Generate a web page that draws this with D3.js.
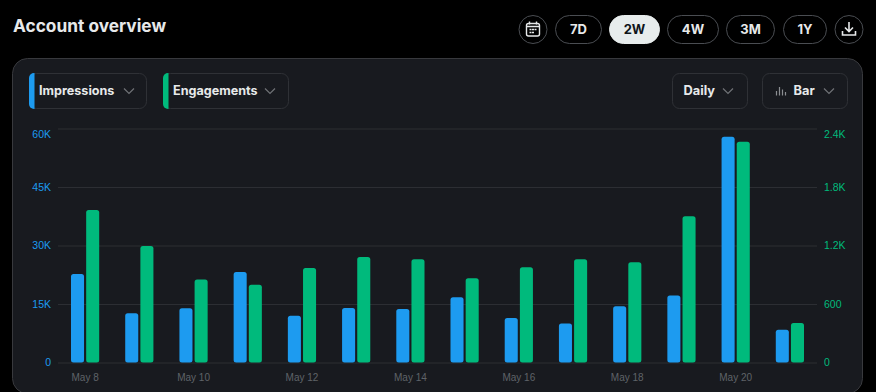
<!DOCTYPE html>
<html>
<head>
<meta charset="utf-8">
<script src="https://cdn.jsdelivr.net/npm/d3@7"></script>
<style>
    html, body { margin: 0; padding: 0; background: #000; overflow: hidden; }
    svg { display: block; font-family: Inter, "Noto Sans", sans-serif; }
    .axis path { display: none; }
    .axis text { font-size: 10.5px; }
</style>
</head>
<body>
<script>
// Chart data
const days = ["May 8", "May 9", "May 10", "May 11", "May 12", "May 13", "May 14",
    "May 15", "May 16", "May 17", "May 18", "May 19", "May 20", "May 21"];
const impressions = [22700, 12600, 13900, 23200, 12000, 14000, 13700,
    16700, 11400, 10000, 14400, 17200, 57900, 8400];
const engagements = [1563, 1194, 852, 797, 968, 1081, 1060,
    865, 978, 1060, 1029, 1499, 2265, 406];
const dayTicks = ["May 8", "May 10", "May 12", "May 14", "May 16", "May 18", "May 20"];
const impressionTicks = [0, 15000, 30000, 45000, 60000];
const engagementTicks = [0, 600, 1200, 1800, 2400];
const seriesNames = ["Impressions", "Engagements"];

// SVG dimensions
const outerWidth = 876, outerHeight = 392;
const plot = { left: 58, right: 817, top: 128.5, bottom: 362.5 };
const blue = "#1d9bf0", green = "#00ba7c", white = "#e7e9ea", line = "#2c2e33";

const svg = d3.select("body").append("svg")
    .attr("width", outerWidth)
    .attr("height", outerHeight);

const kLabel = (d) => d >= 1000 ? `${+(d / 1000).toFixed(1)}K` : `${d}`;

// Title
svg.append("text")
    .attr("x", 13).attr("y", 32)
    .attr("fill", white)
    .attr("font-size", 17.3)
    .attr("font-weight", 700)
    .text("Account overview");

// Range buttons
const circleButton = (cx) => svg.append("circle")
    .attr("cx", cx).attr("cy", 29.5).attr("r", 14)
    .attr("fill", "none").attr("stroke", "#4a4d52");

circleButton(533);
circleButton(849);

const ranges = [
    { label: "7D", x: 555.5, w: 46 },
    { label: "2W", x: 609.5, w: 50, on: true },
    { label: "4W", x: 667.5, w: 51 },
    { label: "3M", x: 726.5, w: 48 },
    { label: "1Y", x: 783.5, w: 43 }
];
ranges.forEach((r) => {
    svg.append("rect")
        .attr("x", r.x).attr("y", 15.5)
        .attr("width", r.w).attr("height", 28).attr("rx", 14)
        .attr("fill", r.on ? "#e7ecec" : "none")
        .attr("stroke", r.on ? "#e7ecec" : "#4a4d52");
    svg.append("text")
        .attr("x", r.x + r.w / 2).attr("y", 34)
        .attr("text-anchor", "middle")
        .attr("fill", r.on ? "#0f1419" : white)
        .attr("font-size", 13).attr("font-weight", 700)
        .text(r.label);
});

// Calendar icon
const calendar = svg.append("g").attr("transform", "translate(533, 29.5)");
calendar.append("rect")
    .attr("x", -6.5).attr("y", -6).attr("width", 13).attr("height", 12.5).attr("rx", 2)
    .attr("fill", "none").attr("stroke", white).attr("stroke-width", 1.4);
calendar.append("path")
    .attr("d", "M-6.5 -3H6.5M-3.5 -8V-5M3.5 -8V-5M-3.5 0H-1.5M-1 0H1M1.5 0H3.5M-3.5 3H-1.5M-1 3H1")
    .attr("fill", "none").attr("stroke", white).attr("stroke-width", 1.4);

// Download icon
svg.append("path")
    .attr("transform", "translate(849, 29)")
    .attr("d", "M0 -7V2.5M-4 -1.5L0 2.5L4 -1.5M-6.5 2V6H6.5V2")
    .attr("fill", "none").attr("stroke", white).attr("stroke-width", 1.6);

// Card
svg.append("rect")
    .attr("x", 12.5).attr("y", 58.5)
    .attr("width", 850).attr("height", 335).attr("rx", 15)
    .attr("fill", "#181a1f").attr("stroke", "#38393d");

// Dropdowns
const chevron = (x, y) => svg.append("path")
    .attr("d", `M${x - 5} ${y - 2.5}L${x} ${y + 2.5}L${x + 5} ${y - 2.5}`)
    .attr("fill", "none").attr("stroke", "#6f7276").attr("stroke-width", 1.2);

const dropdowns = [
    { label: seriesNames[0], x: 29.5, w: 117, tx: 39, cx: 129, accent: blue },
    { label: seriesNames[1], x: 163.5, w: 125, tx: 173, cx: 270, accent: green },
    { label: "Daily", x: 672.5, w: 75, tx: 683.5, cx: 728 },
    { label: "Bar", x: 762.5, w: 85, tx: 793.5, cx: 829 }
];
dropdowns.forEach((d) => {
    svg.append("rect")
        .attr("x", d.x).attr("y", 73.5)
        .attr("width", d.w).attr("height", 35).attr("rx", 7)
        .attr("fill", "none").attr("stroke", "#2f3136");
    if (d.accent) {
        svg.append("path")
            .attr("d", `M${d.x + 5} 73H${d.x + 4.5}a5 5 0 0 0 -5 5V104a5 5 0 0 0 5 5H${d.x + 5}Z`)
            .attr("fill", d.accent);
    }
    svg.append("text")
        .attr("x", d.tx).attr("y", 95)
        .attr("fill", white)
        .attr("font-size", d.accent ? 12.6 : 12.8).attr("font-weight", 700)
        .text(d.label);
    chevron(d.cx, 91);
});

// Little bars on the chart type dropdown
svg.append("path")
    .attr("d", "M776.5 95.5V91M779.5 95.5V87M782.5 95.5V89.5M785.5 95.5V92")
    .attr("fill", "none").attr("stroke", "#8b8e92").attr("stroke-width", 1.2);

// Scales
const x = d3.scaleBand()
    .domain(days)
    .range([plot.left, plot.right]);
const xInner = d3.scaleBand()
    .domain(seriesNames)
    .range([13, x.bandwidth() - 13])
    .paddingInner(0.14);
const yLeft = d3.scaleLinear()
    .domain([0, 60000])
    .range([plot.bottom, plot.top]);
const yRight = d3.scaleLinear()
    .domain([0, 2400])
    .range([plot.bottom, plot.top]);

// Axes, the left one also draws the grid
const leftAxis = svg.append("g")
    .attr("class", "axis")
    .attr("transform", `translate(${plot.left}, 0)`)
    .call(d3.axisLeft(yLeft)
        .tickValues(impressionTicks)
        .tickFormat(kLabel)
        .tickSize(-(plot.right - plot.left))
        .tickPadding(7));
leftAxis.selectAll("line").attr("stroke", line).attr("stroke-width", 1);
leftAxis.selectAll("text").attr("fill", blue);

const rightAxis = svg.append("g")
    .attr("class", "axis")
    .attr("transform", `translate(${plot.right}, 0)`)
    .call(d3.axisRight(yRight)
        .tickValues(engagementTicks)
        .tickFormat(kLabel)
        .tickSize(0)
        .tickPadding(7));
rightAxis.selectAll("text").attr("fill", green);

const bottomAxis = svg.append("g")
    .attr("class", "axis")
    .attr("transform", `translate(0, ${plot.bottom})`)
    .call(d3.axisBottom(x)
        .tickValues(dayTicks)
        .tickSize(0)
        .tickPadding(11));
bottomAxis.selectAll("text").attr("fill", "#5f6368").style("font-size", "10px");

// Top labels sit a little lower than their grid lines
leftAxis.selectAll(".tick text").filter((d) => d === 60000).attr("dy", "0.9em");
rightAxis.selectAll(".tick text").filter((d) => d === 2400).attr("dy", "0.9em");

// Bars
function plotBars(values, name, y, colour) {
    svg.append("g")
        .selectAll("rect")
        .data(values)
        .join("rect")
        .attr("x", (d, i) => x(days[i]) + xInner(name))
        .attr("y", (d) => y(d))
        .attr("width", xInner.bandwidth())
        .attr("height", (d) => plot.bottom - y(d))
        .attr("rx", 2.5)
        .attr("fill", colour);
}

plotBars(impressions, seriesNames[0], yLeft, blue);
plotBars(engagements, seriesNames[1], yRight, green);
</script>
</body>
</html>
